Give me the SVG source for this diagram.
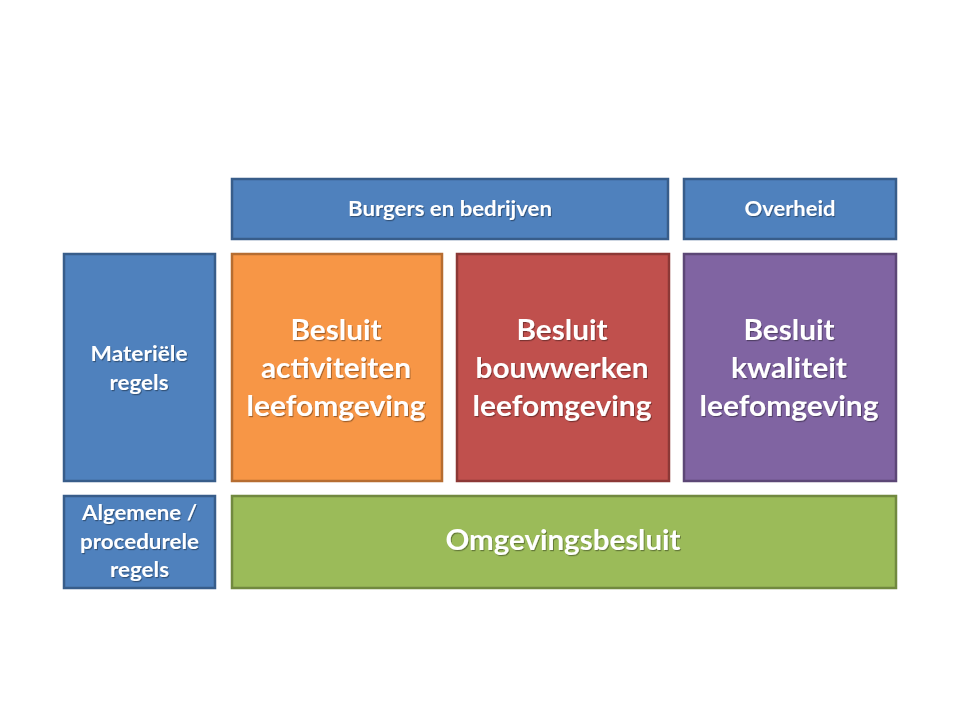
<svg xmlns="http://www.w3.org/2000/svg" width="960" height="720" viewBox="0 0 960 720">
  <defs>
    <filter id="ts" x="-10%" y="-30%" width="120%" height="160%">
      <feDropShadow dx="1" dy="1.2" stdDeviation="0.7" flood-color="#000" flood-opacity="0.35"/>
    </filter>
  </defs>
  <style>
    .box { stroke-width: 2.5; }
    .blue { fill: #4F81BD; stroke: #385D8A; }
    .orange { fill: #F79646; stroke: #B66D31; }
    .red { fill: #C0504D; stroke: #8C3836; }
    .purple { fill: #8064A2; stroke: #5C4776; }
    .green { fill: #9BBB59; stroke: #71893F; }
    text { font-family: Lato, "Open Sans", "Liberation Sans", sans-serif; font-weight: bold; fill: #FFFFFF; text-anchor: middle; filter: url(#ts); }
    .s { font-size: 21.5px; }
    .b { font-size: 28.6px; }
  </style>
  <rect width="960" height="720" fill="#FFFFFF"/>

  <g id="burgers">
    <rect class="box blue" x="232" y="179" width="436" height="60"/>
    <text class="s" x="450" y="216" textLength="204" lengthAdjust="spacingAndGlyphs">Burgers en bedrijven</text>
  </g>
  <g id="overheid">
    <rect class="box blue" x="684" y="179" width="212" height="60"/>
    <text class="s" x="790" y="216" textLength="91" lengthAdjust="spacingAndGlyphs">Overheid</text>
  </g>

  <g id="materiele">
    <rect class="box blue" x="64" y="254" width="151" height="227"/>
    <text class="s" x="139" y="361" textLength="97" lengthAdjust="spacingAndGlyphs">Materiële</text>
    <text class="s" x="139" y="390" textLength="59" lengthAdjust="spacingAndGlyphs">regels</text>
  </g>

  <g id="activiteiten">
    <rect class="box orange" x="232" y="254" width="210" height="227"/>
    <text class="b" x="336" y="340" textLength="91" lengthAdjust="spacingAndGlyphs">Besluit</text>
    <text class="b" x="336" y="378" textLength="150" lengthAdjust="spacingAndGlyphs">activiteiten</text>
    <text class="b" x="336" y="416" textLength="179" lengthAdjust="spacingAndGlyphs">leefomgeving</text>
  </g>

  <g id="bouwwerken">
    <rect class="box red" x="457" y="254" width="212" height="227"/>
    <text class="b" x="562" y="340" textLength="91" lengthAdjust="spacingAndGlyphs">Besluit</text>
    <text class="b" x="562" y="378" textLength="173" lengthAdjust="spacingAndGlyphs">bouwwerken</text>
    <text class="b" x="562" y="416" textLength="179" lengthAdjust="spacingAndGlyphs">leefomgeving</text>
  </g>

  <g id="kwaliteit">
    <rect class="box purple" x="684" y="254" width="212" height="227"/>
    <text class="b" x="789" y="340" textLength="91" lengthAdjust="spacingAndGlyphs">Besluit</text>
    <text class="b" x="789" y="378" textLength="116" lengthAdjust="spacingAndGlyphs">kwaliteit</text>
    <text class="b" x="789" y="416" textLength="179" lengthAdjust="spacingAndGlyphs">leefomgeving</text>
  </g>

  <g id="algemene">
    <rect class="box blue" x="64" y="496" width="151" height="92"/>
    <text class="s" x="139.5" y="520" textLength="115" lengthAdjust="spacingAndGlyphs">Algemene /</text>
    <text class="s" x="139.5" y="548.5" textLength="119" lengthAdjust="spacingAndGlyphs">procedurele</text>
    <text class="s" x="139.5" y="577" textLength="59" lengthAdjust="spacingAndGlyphs">regels</text>
  </g>

  <g id="omgevingsbesluit">
    <rect class="box green" x="232" y="496" width="664" height="92"/>
    <text class="b" x="563" y="550" textLength="235" lengthAdjust="spacingAndGlyphs">Omgevingsbesluit</text>
  </g>

  <g id="connectors"/>
</svg>
